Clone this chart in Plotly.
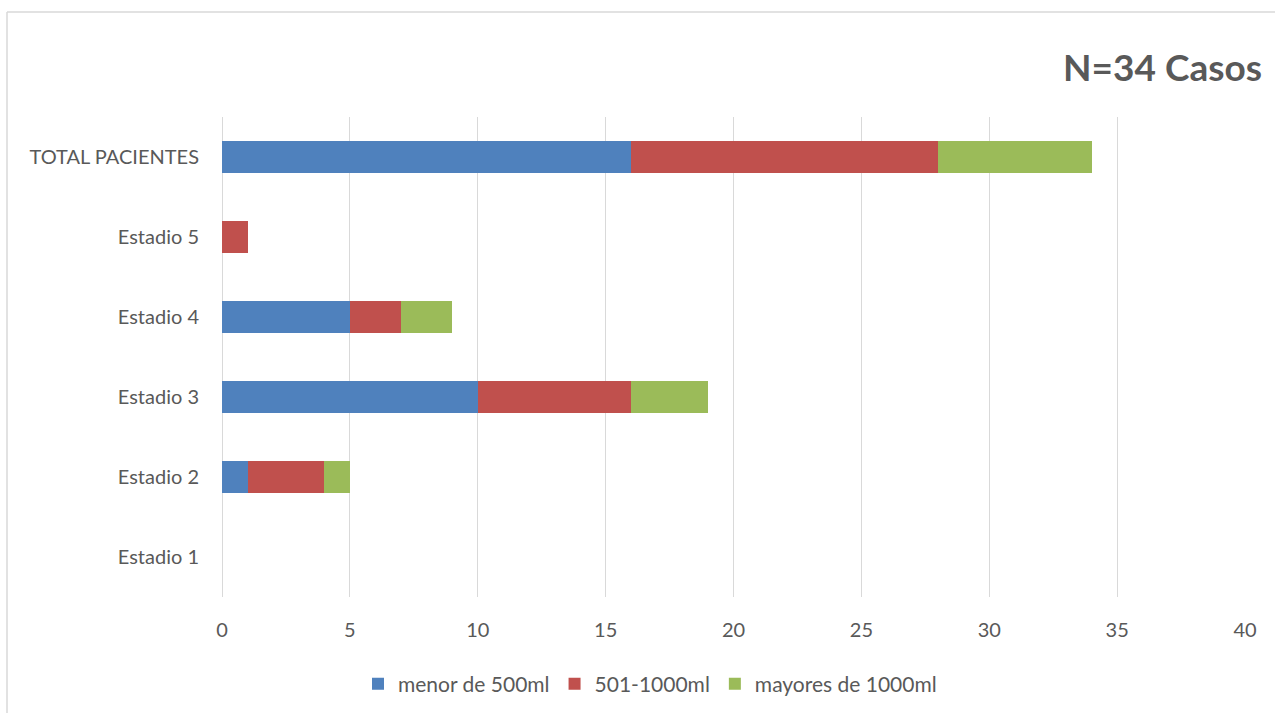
import plotly.graph_objects as go

categories = ["Estadio 1", "Estadio 2", "Estadio 3", "Estadio 4", "Estadio 5", "TOTAL PACIENTES"]
menor_500 = [0, 1, 10, 5, 0, 16]
de_501_1000 = [0, 3, 6, 2, 1, 12]
mayores_1000 = [0, 1, 3, 2, 0, 6]
x_ticks = [0, 5, 10, 15, 20, 25, 30, 35, 40]

W, H = 1275, 713
L, R, T, B = 222, 30, 117, 116
FONT = "Lato"
GREY = "#595959"

fig = go.Figure()
series = [
    ("menor de 500ml", menor_500, "#4f81bd"),
    ("501-1000ml", de_501_1000, "#c0504d"),
    ("mayores de 1000ml", mayores_1000, "#9bbb59"),
]
for name, vals, color in series:
    fig.add_trace(go.Bar(
        y=categories, x=vals, name=name, orientation="h",
        marker=dict(color=color, line=dict(width=0)),
        width=0.4,
    ))

pw = W - L - R
ph = H - T - B
# chart frame: left and top edges
fig.add_shape(type="line", xref="paper", yref="paper",
              x0=(7 - L) / pw, x1=(7 - L) / pw, y0=-(B + 5) / ph, y1=1 + (T - 12) / ph,
              line=dict(color="#d9d9d9", width=1.5))
fig.add_shape(type="line", xref="paper", yref="paper",
              x0=(7 - L) / pw, x1=1 + (R + 5) / pw, y0=1 + (T - 12) / ph, y1=1 + (T - 12) / ph,
              line=dict(color="#d9d9d9", width=1.5))

fig.update_layout(
    width=W, height=H,
    barmode="stack",
    plot_bgcolor="white", paper_bgcolor="white",
    margin=dict(l=L, r=R, t=T, b=B, pad=0, autoexpand=False),
    font=dict(family=FONT, color=GREY, size=20),
    title=dict(text="<b>N=34 Casos</b>", x=1262 / W, xanchor="right",
               y=1 - 68 / H, yanchor="middle",
               font=dict(family=FONT, size=37, color=GREY)),
    xaxis=dict(range=[0, 40], tickvals=x_ticks, showgrid=True, gridcolor="#d9d9d9",
               gridwidth=1, zeroline=True, zerolinecolor="#d9d9d9", zerolinewidth=1,
               showline=False, ticks="outside", ticklen=15, tickcolor="rgba(0,0,0,0)",
               tickfont=dict(size=20, color=GREY), automargin=False),
    yaxis=dict(categoryorder="array", categoryarray=categories, showgrid=False,
               zeroline=False, showline=False, ticks="outside", ticklen=18,
               tickcolor="rgba(0,0,0,0)", tickfont=dict(size=20, color=GREY),
               automargin=False),
    legend=dict(orientation="h", x=(650 - L) / pw, xanchor="center",
                y=-(684 - (H - B)) / ph, yanchor="middle",
                font=dict(size=21, color=GREY), traceorder="normal",
                itemwidth=30, itemsizing="constant"),
    bargap=0.6,
)

fig.write_html("out.html")
